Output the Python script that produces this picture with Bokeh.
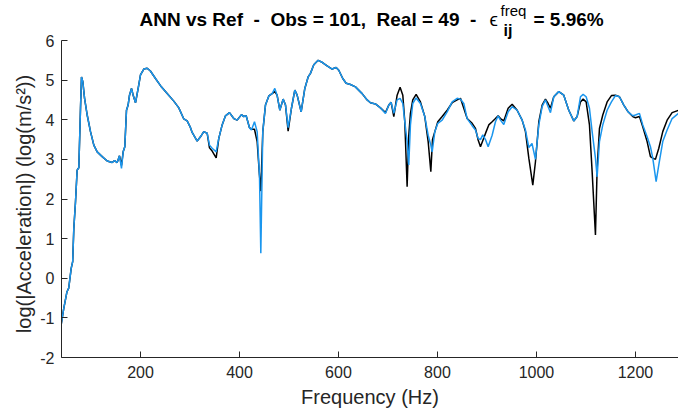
from bokeh.plotting import figure
from bokeh.models import Label, FixedTicker
from bokeh.embed import file_html
from bokeh.resources import INLINE

# ---- data ----
freq_ref = [40, 45, 51.5, 55, 60, 63, 65.3, 68.7, 72, 75.4, 78.8, 80.8, 83.5, 87, 92.3, 99, 105.7, 112.5,
            122.6, 132.7, 142.8, 147.5, 152.9, 157.6, 161.6, 165, 168.3, 171.7, 175, 177.8, 181.8, 185.2,
            190, 195.3, 200, 206.7, 213.5, 220, 230.3, 240.4, 253.9, 267.3, 277.4, 287.5, 294.3, 301,
            304.4, 314.5, 321.2, 327.9, 334.7, 339.4, 344.8, 352.9, 358.2, 365, 371.7, 379.8, 388.5,
            395.3, 404, 408.7, 413.5, 420.2, 424.2, 430.3, 435.7, 440.4, 443.1, 447.1, 452.5, 459.3,
            466, 471.4, 476, 481.5, 488.2, 493, 498.3, 505, 511.8, 516.5, 524.6, 532, 538.7, 543.4,
            550.1, 558.9, 567, 577.1, 587.2, 595.3, 600.6, 608.7, 615.5, 624.2, 634.3, 647.8, 657.9,
            664.6, 674.7, 684.8, 694.9, 701.7, 706.4, 711.8, 718.5, 724.5, 730, 734, 738.7, 742, 745.4,
            750.1, 756.9, 765.6, 774.4, 781.2, 786.6, 790, 794.7, 800.7, 809.5, 819.6, 829.7, 839.8,
            846.5, 853.2, 860, 870.1, 876.8, 882.2, 886.9, 893.6, 898.4, 903.7, 910.5, 917.2, 922.6,
            927.3, 934, 942.8, 950.9, 961, 971.1, 977.8, 984.6, 992.6, 998, 1004.8, 1011.5, 1018.2,
            1023.6, 1028.3, 1035, 1045.1, 1055.2, 1065.3, 1075.4, 1082.2, 1088.9, 1094.3, 1100.4,
            1107.1, 1112.5, 1119.2, 1122.6, 1127.3, 1134, 1142.8, 1151.5, 1159.6, 1167.7, 1176.5,
            1185.2, 1194.6, 1200, 1208.1, 1214.8, 1223.6, 1230.3, 1235, 1240.4, 1247.2, 1255.2, 1264,
            1274.1, 1287]
acc_ref = [-1.15, -0.76, -0.34, -0.25, 0.25, 0.42, 1.26, 1.93, 2.73, 2.79, 4.29, 5.08, 4.96, 4.54, 4.12,
           3.70, 3.36, 3.19, 3.07, 2.96, 2.92, 2.97, 2.92, 3.09, 2.85, 3.19, 3.32, 4.24, 4.37, 4.62, 4.79,
           4.62, 4.43, 4.79, 5.13, 5.28, 5.30, 5.23, 5.04, 4.86, 4.66, 4.47, 4.30, 4.02, 3.97, 3.80,
           3.68, 3.46, 3.57, 3.70, 3.66, 3.29, 3.21, 3.04, 3.53, 3.87, 4.10, 4.18, 4.03, 3.99, 4.13,
           4.08, 4.10, 3.80, 3.76, 3.76, 3.45, 2.60, 2.20, 3.70, 4.37, 4.60, 4.66, 4.71, 4.62, 4.24,
           4.52, 4.37, 3.71, 4.29, 4.75, 4.62, 4.20, 4.79, 5.08, 5.17, 5.39, 5.50, 5.45, 5.36, 5.28,
           5.32, 5.25, 5.04, 4.92, 4.89, 4.83, 4.66, 4.50, 4.43, 4.40, 4.30, 4.18, 4.37, 4.44, 4.08,
           4.62, 4.82, 4.62, 3.95, 2.31, 3.60, 4.16, 4.50, 4.64, 4.45, 4.08, 3.45, 2.69, 3.50, 3.70,
           3.95, 4.08, 4.24, 4.43, 4.50, 4.54, 4.29, 4.03, 3.91, 3.78, 3.49, 3.32, 3.54, 3.70, 3.87,
           3.95, 4.03, 4.10, 4.03, 3.97, 4.29, 4.39, 4.24, 3.99, 3.70, 3.03, 2.35, 2.94, 3.95, 4.37,
           4.52, 4.41, 4.29, 4.58, 4.71, 4.62, 4.24, 3.97, 4.08, 4.45, 4.52, 4.45, 3.87, 2.69, 1.09,
           2.77, 3.78, 4.12, 4.45, 4.61, 4.62, 4.58, 4.37, 4.20, 4.08, 4.05, 4.08, 3.82, 3.45, 3.07,
           3.03, 3.00, 3.28, 3.70, 3.99, 4.18, 4.24]

freq_ann = [40, 45, 51.5, 55, 60, 63, 65.3, 68.7, 72, 75.4, 78.8, 80.8, 83.5, 87, 92.3, 99, 105.7, 112.5,
            122.6, 132.7, 142.8, 147.5, 152.9, 157.6, 161.6, 165, 168.3, 171.7, 175, 177.8, 181.8, 185.2,
            190, 195.3, 200, 206.7, 213.5, 220, 230.3, 240.4, 253.9, 267.3, 277.4, 287.5, 294.3, 301,
            304.4, 314.5, 321.2, 327.9, 334.7, 339.4, 344.8, 352.9, 358.2, 365, 371.7, 379.8, 388.5,
            395.3, 404, 408.7, 413.5, 420.2, 424.2, 430.3, 435.7, 440.4, 443.1, 447.1, 452.5, 459.3,
            466, 471.4, 476, 481.5, 488.2, 493, 498.3, 505, 511.8, 516.5, 524.6, 532, 538.7, 543.4,
            550.1, 558.9, 567, 577.1, 587.2, 595.3, 600.6, 608.7, 615.5, 624.2, 634.3, 647.8, 657.9,
            664.6, 674.7, 684.8, 694.9, 701.7, 706.4, 711.8, 718.5, 724.5, 730, 734, 738.7, 742, 745.4,
            750.1, 756.9, 765.6, 774.4, 781.2, 786.6, 789.3, 794.7, 800.7, 809.5, 819.6, 829.7, 839.8,
            846.5, 853.2, 860, 870.1, 876.8, 882.2, 886.9, 891.5, 897, 902.4, 910.5, 917.2, 922.6,
            927.3, 934, 942.8, 950.9, 961, 971.1, 977.8, 984.6, 991, 998, 1004.8, 1011.5, 1018.2,
            1023.6, 1028.3, 1035, 1045.1, 1055.2, 1065.3, 1075.4, 1082.2, 1088.9, 1094.3, 1100.4,
            1107.1, 1112.5, 1119.2, 1122.6, 1127.3, 1134, 1142.8, 1151.5, 1159.6, 1167.7, 1176.5,
            1185.2, 1194.6, 1200, 1208.1, 1214.8, 1223.6, 1230.3, 1235, 1241.8, 1247.2, 1255.2, 1264,
            1274.1, 1287]
acc_ann = [-1.15, -0.76, -0.34, -0.25, 0.25, 0.42, 1.26, 1.93, 2.73, 2.79, 4.29, 5.08, 4.96, 4.54, 4.12,
           3.70, 3.36, 3.19, 3.07, 2.96, 2.92, 2.97, 2.92, 3.09, 2.77, 3.19, 3.32, 4.24, 4.37, 4.62, 4.79,
           4.62, 4.43, 4.79, 5.13, 5.28, 5.30, 5.23, 5.04, 4.86, 4.66, 4.47, 4.30, 4.02, 3.97, 3.80,
           3.68, 3.46, 3.57, 3.70, 3.66, 3.36, 3.28, 3.19, 3.53, 3.87, 4.10, 4.18, 4.03, 3.99, 4.13,
           4.08, 4.10, 3.80, 3.74, 3.95, 3.70, 2.60, 0.63, 3.70, 4.37, 4.60, 4.66, 4.79, 4.62, 4.24,
           4.52, 4.37, 3.80, 4.29, 4.75, 4.62, 4.20, 4.79, 5.08, 5.17, 5.39, 5.50, 5.45, 5.36, 5.28,
           5.32, 5.25, 5.04, 4.92, 4.89, 4.83, 4.66, 4.50, 4.43, 4.40, 4.30, 4.16, 4.37, 4.44, 4.16,
           4.50, 4.54, 4.41, 3.95, 3.45, 2.86, 3.87, 4.41, 4.55, 4.41, 4.08, 3.61, 3.36, 3.19, 3.70,
           3.91, 3.99, 4.20, 4.45, 4.54, 4.52, 4.41, 4.03, 3.85, 3.74, 3.53, 3.50, 3.62, 3.50, 3.32,
           3.61, 3.95, 4.10, 3.99, 3.88, 4.20, 4.33, 4.24, 3.99, 3.74, 3.30, 3.40, 3.00, 3.87, 4.33,
           4.50, 4.33, 4.18, 4.58, 4.71, 4.62, 4.24, 3.97, 4.08, 4.58, 4.64, 4.58, 4.29, 3.70, 3.03,
           2.56, 3.45, 3.87, 4.24, 4.45, 4.61, 4.58, 4.37, 4.20, 4.10, 4.12, 4.16, 3.87, 3.57, 3.32,
           3.03, 2.44, 2.86, 3.45, 3.74, 4.03, 4.16]

x_ticks = [200, 400, 600, 800, 1000, 1200]
y_ticks = [-2, -1, 0, 1, 2, 3, 4, 5, 6]

NB = "\u00a0"
title_main = "ANN vs Ref" + NB * 2 + "-" + NB * 2 + "Obs = 101," + NB * 2 + "Real = 49" + NB * 2 + "-"
title_eps = "\u03f5"
title_sup = "freq"
title_sub = "ij"
title_end = "= 5.96%"
x_label = "Frequency (Hz)"
y_label = "log(|Acceleration|) (log(m/s\u00b2))"

FONT = "Liberation Sans"
AX = "#262626"

FB = 357  # frame bottom in canvas px
FL = 61   # frame left
PX_PER_UNIT = 317 / 8.0

p = figure(width=678, height=415, x_range=(40.4, 1287), y_range=(-2, 6 + 40 / PX_PER_UNIT),
           output_backend="svg", toolbar_location=None,
           min_border_left=FL, min_border_right=0, min_border_top=0, min_border_bottom=415 - FB)
p.outline_line_color = None
p.grid.visible = False
p.background_fill_color = "white"
p.border_fill_color = "white"

for ax in (p.xaxis, p.yaxis):
    ax.axis_line_color = AX
    ax.axis_line_width = 1
    ax.major_tick_line_color = AX
    ax.major_tick_in = 6
    ax.major_tick_out = 0
    ax.minor_tick_line_color = None
    ax.major_label_text_font = FONT
    ax.major_label_text_font_size = "16px"
    ax.major_label_text_color = AX
    ax.axis_label_text_font = FONT
    ax.axis_label_text_font_size = "20px"
    ax.axis_label_text_font_style = "normal"
    ax.axis_label_text_color = AX

p.xaxis.ticker = FixedTicker(ticks=x_ticks)
p.yaxis.ticker = FixedTicker(ticks=y_ticks)
p.yaxis.bounds = (-2, 6)
p.yaxis.major_label_overrides = {-2: "-2", -1: "-1"}
p.xaxis.axis_label = x_label
# trailing no-break spaces shift the centred label down to the middle of the -2..6 span
p.yaxis.axis_label = y_label + NB * 9
p.xaxis.major_label_standoff = 8
p.yaxis.major_label_standoff = 7
p.xaxis.axis_label_standoff = 5
p.yaxis.axis_label_standoff = 2

p.line(freq_ref, acc_ref, line_color="black", line_width=1.5)
p.line(freq_ann, acc_ann, line_color="#1a96ee", line_width=1.5)


def lab(text, x, y, size, style):
    p.add_layout(Label(x=x - FL, y=FB - y, x_units="screen", y_units="screen", text=text,
                       text_font=FONT, text_font_size=size, text_font_style=style,
                       text_color="black", text_baseline="alphabetic", text_align="left"))


lab(title_main, 139, 19, "19px", "bold")
lab(title_eps, 489, 19, "19px", "normal")
lab(title_sup, 500, 9.5, "15px", "normal")
lab(title_sub, 503, 30, "16px", "bold")
lab(title_end, 533, 19, "19px", "bold")

open("out.html", "w").write(file_html(p, INLINE))
